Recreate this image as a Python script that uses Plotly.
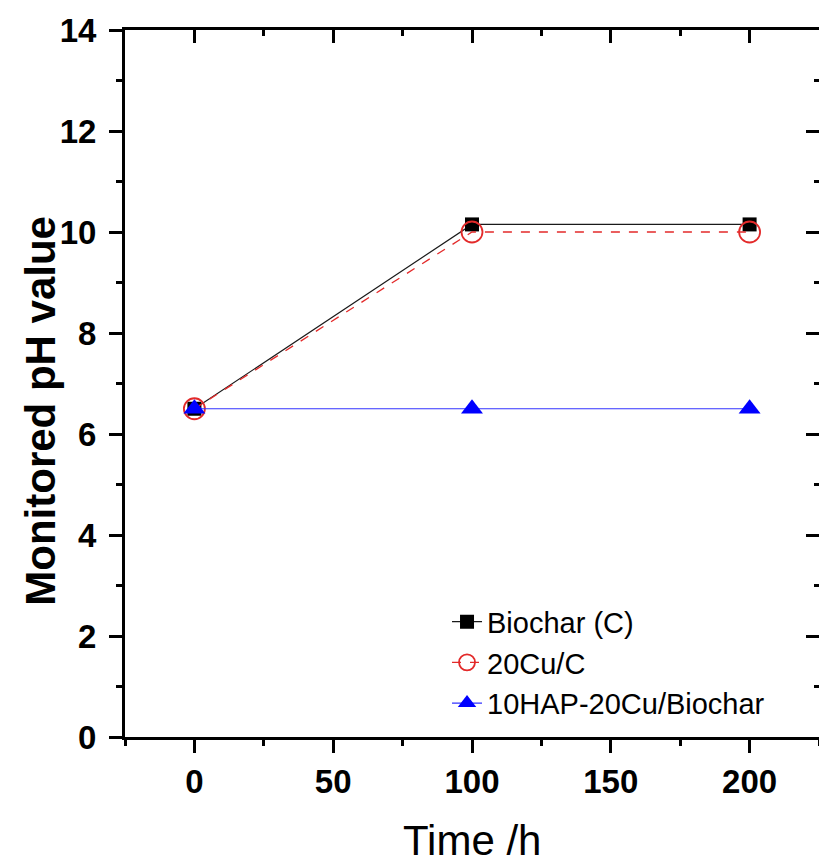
import plotly.graph_objects as go

time_h = [0, 100, 200]
biochar = [6.5, 10.15, 10.15]
cu_c = [6.5, 10.0, 10.0]
hap_cu = [6.5, 6.5, 6.5]

names = ["Biochar (C)", "20Cu/C", "10HAP-20Cu/Biochar"]

FONT = "Liberation Sans, Arial, sans-serif"

fig = go.Figure()
fig.add_trace(go.Scatter(x=time_h, y=biochar, name=names[0], mode="lines+markers",
                         line=dict(color="#1a1a1a", width=1.2),
                         marker=dict(symbol="square", size=14, color="black")))
fig.add_trace(go.Scatter(x=time_h, y=cu_c, name=names[1], mode="lines+markers",
                         line=dict(color="#e32a2a", width=1.3, dash="dash"),
                         marker=dict(symbol="circle-open", size=21, color="#e32a2a",
                                     line=dict(width=1.8, color="#e32a2a"))))
fig.add_trace(go.Scatter(x=time_h, y=hap_cu, name=names[2], mode="lines+markers",
                         line=dict(color="#3333ff", width=1.2),
                         marker=dict(symbol="triangle-up", size=19, color="#0000ff")))

xr = [-25, 225]
yr = [0, 14]

fig.update_layout(
    width=819, height=864,
    margin=dict(l=125, r=0, t=30, b=127, autoexpand=False),
    paper_bgcolor="white", plot_bgcolor="white",
    font=dict(family=FONT, color="black"),
    showlegend=True,
    legend=dict(x=0.464, y=0.199, xanchor="left", yanchor="top",
                font=dict(size=29, family=FONT), bgcolor="rgba(0,0,0,0)",
                tracegroupgap=0),
    xaxis=dict(range=xr, tickmode="linear", tick0=0, dtick=50, automargin=False,
               showline=True, linecolor="black", linewidth=3,
               ticks="outside", ticklen=13, tickwidth=3, tickcolor="black",
               minor=dict(ticks="outside", ticklen=6, tickwidth=3, tickcolor="black", dtick=25, tick0=0),
               showgrid=False, zeroline=False,
               tickfont=dict(size=33, family=FONT, weight="bold"),
               ticklabelstandoff=0),
    yaxis=dict(range=yr, tickmode="linear", tick0=0, dtick=2, automargin=False,
               showline=True, linecolor="black", linewidth=3,
               ticks="outside", ticklen=13, tickwidth=3, tickcolor="black",
               minor=dict(ticks="outside", ticklen=6, tickwidth=3, tickcolor="black", dtick=1, tick0=0),
               showgrid=False, zeroline=False,
               tickfont=dict(size=33, family=FONT, weight="bold"),
               ticklabelstandoff=6),
    xaxis2=dict(range=xr, overlaying="x", side="top", tickmode="linear", tick0=0, dtick=50,
                automargin=False,
                showline=True, linecolor="black", linewidth=3,
                ticks="inside", ticklen=13, tickwidth=3, tickcolor="black",
                minor=dict(ticks="inside", ticklen=6, tickwidth=3, tickcolor="black", dtick=25, tick0=0),
                showticklabels=False, showgrid=False, zeroline=False),
    yaxis2=dict(range=yr, overlaying="y", side="right", tickmode="linear", tick0=0, dtick=2,
                automargin=False, showline=False,
                ticks="inside", ticklen=13, tickwidth=3, tickcolor="black",
                minor=dict(ticks="inside", ticklen=5, tickwidth=3, tickcolor="black", dtick=1, tick0=0),
                showticklabels=False, showgrid=False, zeroline=False),
)

# invisible trace to activate the secondary (mirror) axes
fig.add_trace(go.Scatter(x=[None], y=[None], xaxis="x2", yaxis="y2", showlegend=False, hoverinfo="skip"))

fig.add_annotation(text="Monitored pH value", xref="paper", yref="paper",
                   x=-0.123, y=0.461, xanchor="center", yanchor="middle", textangle=-90,
                   showarrow=False, font=dict(size=42, family=FONT, weight="bold"))
fig.add_annotation(text="Time /h", xref="paper", yref="paper",
                   x=0.5, y=-0.110, xanchor="center", yanchor="top",
                   showarrow=False, font=dict(size=42, family=FONT))

fig.write_html("out.html", config={"displayModeBar": False},
               post_script="document.body.style.margin='0px';")
